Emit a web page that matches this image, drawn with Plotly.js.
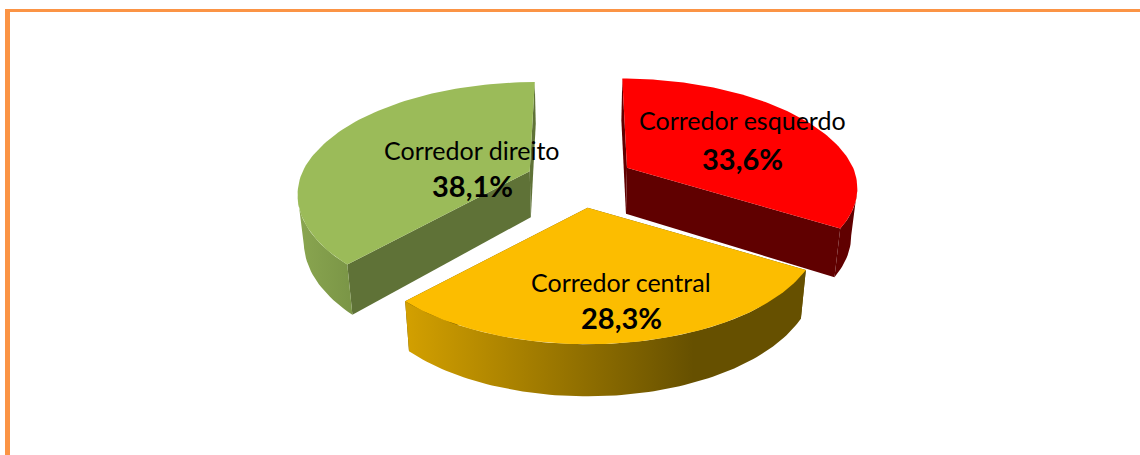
<!DOCTYPE html>
<html><head><meta charset="utf-8">
<script src="https://cdn.plot.ly/plotly-3.0.1.min.js"></script>
<style>html,body{margin:0;padding:0;background:#fff}#c{width:1140px;height:455px}</style></head>
<body><div id="c"></div>
<script>
const categories = ["Corredor esquerdo", "Corredor central", "Corredor direito"];
const shares = [33.6, 28.3, 38.1];

const topColors = ["#FF0000", "#FCBD00", "#9BBB59"];
const radialColors = ["#600000", "#665000", "#5F7237"];
const arcScales = [
  [[0, "#600000"], [1, "#600000"]],
  [[0, "#D3A000"], [0.72, "#665000"], [1, "#665000"]],
  [[0, "#8AA650"], [1, "#7A9546"]]
];
const labelSpots = [[742, 120, 158], [621, 282, 317], [472, 150, 185]];
const cornerTaper = [0.023, 0, 0];

// projection of the exploded, tilted pie onto the page
const origin = [580, 181], explode = [54, 27];
const R = 227, tilt = 0.475, persp = 0.21, depth = 46, vanish = 580, shrink = 0.978, backSkew = 0.1;
const total = shares.reduce((a, b) => a + b, 0);

function topPt(c, theta, r) {
  const u = Math.cos(theta), s = 1 / (1 + persp * u);
  const skew = u > 0 ? -(c[0] - vanish) * backSkew * u : 0;
  return [c[0] + R * r * Math.sin(theta) * s + skew, c[1] - R * r * tilt * u * s, s];
}
function botOf(p) {
  return [vanish + (p[0] - vanish) * shrink, p[1] + depth * (1 + 0.5 * (p[2] - 1))];
}
function poly(pts, color, grad) {
  const t = {
    type: "scatter", mode: "lines", x: pts.map(p => p[0]), y: pts.map(p => p[1]),
    fill: "toself", line: { width: 0, color: color || "rgba(0,0,0,0)" },
    fillcolor: color || undefined, hoverinfo: "skip", showlegend: false
  };
  if (grad) { t.fillgradient = { type: "horizontal", colorscale: grad }; delete t.fillcolor; }
  return t;
}

const traces = [], notes = [];
let cum = 0;
const slices = shares.map((v, i) => {
  const a0 = cum / total * 2 * Math.PI; cum += v;
  const a1 = cum / total * 2 * Math.PI, mid = (a0 + a1) / 2;
  return { i, a0, a1, c: [origin[0] + explode[0] * Math.sin(mid), origin[1] - explode[1] * Math.cos(mid)] };
});

[2, 0, 1].forEach(k => {
  const { i, a0, a1, c } = slices[k];
  const arc = [];
  const n = 90;
  for (let j = 0; j <= n; j++) {
    const f = j / n;
    const r = 1 - cornerTaper[i] * Math.pow(f, 6);
    arc.push(topPt(c, a0 + (a1 - a0) * f, r));
  }
  const apexT = [c[0], c[1], 1], apexB = botOf(apexT);
  [arc[0], arc[n]].forEach(e => {
    traces.push(poly([[apexT[0], apexT[1]], [e[0], e[1]], botOf(e), apexB], radialColors[i]));
  });
  // outer wall: only the part of the rim that faces the viewer
  let ext = 0;
  arc.forEach((p, j) => { if (Math.abs(p[0] - c[0]) > Math.abs(arc[ext][0] - c[0])) ext = j; });
  const rim = (ext === 0 || ext === n) ? arc : arc.filter(p => p[1] >= arc[ext][1] - 1e-6);
  traces.push(poly(rim.map(p => [p[0], p[1]]).concat(rim.slice().reverse().map(botOf)), null, arcScales[i]));
  traces.push(poly([[apexT[0], apexT[1]]].concat(arc.map(p => [p[0], p[1]])), topColors[i]));
});

categories.forEach((name, i) => {
  const [lx, ly1, ly2] = labelSpots[i];
  notes.push({ x: lx, y: ly1, xref: "x", yref: "y", text: name, showarrow: false,
    font: { family: "Lato, 'Open Sans', sans-serif", size: 25, color: "#000" } });
  notes.push({ x: lx, y: ly2, xref: "x", yref: "y", text: "<b>" + shares[i].toFixed(1).replace(".", ",") + "%</b>", showarrow: false,
    font: { family: "Lato, 'Open Sans', sans-serif", size: 29, color: "#000" } });
});

const frame = "#FB9445";
Plotly.newPlot("c", traces, {
  width: 1140, height: 455, margin: { l: 0, r: 0, t: 0, b: 0 },
  paper_bgcolor: "#fff", plot_bgcolor: "#fff", showlegend: false,
  xaxis: { range: [0, 1140], visible: false, fixedrange: true },
  yaxis: { range: [455, 0], visible: false, fixedrange: true },
  annotations: notes,
  shapes: [
    { type: "rect", xref: "x", yref: "y", x0: 5, x1: 1140, y0: 9, y1: 12, fillcolor: frame, line: { width: 0 } },
    { type: "rect", xref: "x", yref: "y", x0: 5, x1: 10, y0: 9, y1: 455, fillcolor: frame, line: { width: 0 } }
  ]
}, { displayModeBar: false, staticPlot: true });
</script></body></html>
